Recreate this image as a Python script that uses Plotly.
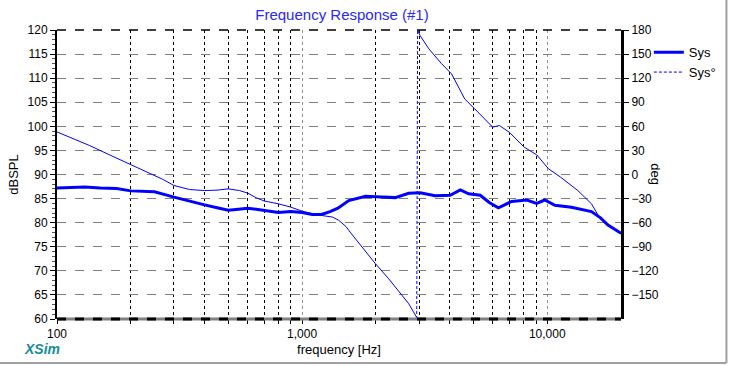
import plotly.graph_objects as go

# ---------------- data ----------------
mag_freq = [100, 115, 130, 150, 175, 200, 250, 300, 350, 400, 450, 500, 550, 600, 650, 700,
            800, 900, 1000, 1100, 1200, 1300, 1400, 1550, 1700, 1815, 2000, 2400, 2720, 3030,
            3490, 4020, 4420, 4780, 5330, 5800, 6320, 7160, 8250, 9060, 9770, 10750, 12560,
            15150, 16500, 17700, 20000]
mag_db = [87.2, 87.3, 87.4, 87.2, 87.1, 86.6, 86.4, 85.3, 84.4, 83.7, 83.1, 82.6, 82.8, 83.0,
          82.8, 82.6, 82.1, 82.3, 82.1, 81.7, 81.7, 82.3, 83.0, 84.6, 85.2, 85.5, 85.4, 85.2,
          86.1, 86.2, 85.6, 85.7, 86.8, 86.0, 85.7, 84.2, 83.1, 84.4, 84.7, 84.0, 84.7, 83.6,
          83.2, 82.3, 81.0, 79.5, 77.8]

phase_low_freq = [100, 113, 136, 165, 200, 238, 270, 300, 347, 400, 450, 500, 555, 600, 650,
                  700, 800, 900, 1000, 1137, 1330, 1410, 1510, 1553, 1754, 1990, 2257, 2474,
                  2723, 2920, 2935]
phase_low_deg = [53, 46.5, 36, 24, 12, 1, -6, -13.7, -18.7, -20, -19.5, -17.9, -20, -23.2, -29,
                 -33, -36.5, -40.7, -45.7, -50, -53, -57, -64.8, -70, -90.5, -111, -130, -144.5,
                 -161, -177, -180]
phase_high_freq = [2960, 3030, 3290, 3706, 4070, 4610, 5060, 5550, 5990, 6380, 7000, 8060, 9060,
                   10130, 11340, 13330, 15150, 16160, 17700, 20000]
phase_high_deg = [180, 173, 156.5, 138, 125.4, 94, 81.8, 69, 59, 61, 52.7, 34, 24.5, 7, -3.3,
                  -20, -36.5, -51, -63.5, -74]

x_tick_vals = [100, 1000, 10000]
x_tick_text = ["100", "1,000", "10,000"]
x_minor_vals = [200, 300, 400, 500, 600, 700, 800, 900,
                2000, 3000, 4000, 5000, 6000, 7000, 8000, 9000]
db_ticks = list(range(60, 121, 5))
deg_ticks = [180, 150, 120, 90, 60, 30, 0, -30, -60, -90, -120, -150]

# ---------------- figure ----------------
BLUE = "#0000ff"
FONT = "Liberation Sans, Arial, sans-serif"

fig = go.Figure()
fig.add_trace(go.Scatter(x=mag_freq, y=mag_db, mode="lines", name="Sys",
                         line=dict(color=BLUE, width=3), yaxis="y"))
fig.add_trace(go.Scatter(x=phase_low_freq, y=phase_low_deg, mode="lines", showlegend=False,
                         line=dict(color=BLUE, width=1), yaxis="y2"))
fig.add_trace(go.Scatter(x=[phase_low_freq[-1], phase_high_freq[0]],
                         y=[phase_low_deg[-1], phase_high_deg[0]], mode="lines", name="Sys°",
                         line=dict(color=BLUE, width=1, dash="3px,2px"), yaxis="y2"))
fig.add_trace(go.Scatter(x=phase_high_freq, y=phase_high_deg, mode="lines", showlegend=False,
                         line=dict(color=BLUE, width=1), yaxis="y2"))

fig.update_layout(
    width=733, height=366,
    margin=dict(l=57, r=109, t=30, b=47),
    paper_bgcolor="white", plot_bgcolor="white",
    font=dict(family=FONT, size=12, color="black"),
    title=dict(text="Frequency Response (#1)", x=(342 / 733), xanchor="center",
               y=1 - 15 / 366, yanchor="middle",
               font=dict(family=FONT, size=15, color="#2828ff")),
    showlegend=True,
    legend=dict(x=(652 - 57) / 567, y=0.975, xanchor="left", yanchor="top",
                bgcolor="rgba(0,0,0,0)", font=dict(size=13, color="black"),
                tracegroupgap=0, itemwidth=30),
    xaxis=dict(type="log", range=[2, 4.30103], tickmode="array", tickvals=x_tick_vals,
               ticktext=x_tick_text, ticks="outside", ticklen=4, tickcolor="black",
               showgrid=True, gridcolor="#909090", griddash="dot", gridwidth=1,
               minor=dict(tickmode="array", tickvals=x_minor_vals, showgrid=True,
                          gridcolor="black", griddash="dot", gridwidth=1,
                          ticks="outside", ticklen=4, tickcolor="black"),
               showline=False, zeroline=False,
               title=dict(text="frequency [Hz]", font=dict(size=13), standoff=4),
               tickfont=dict(size=12)),
    yaxis=dict(range=[60, 120], tickmode="array", tickvals=db_ticks, ticks="outside",
               ticklen=5, tickcolor="black", showgrid=True, gridcolor="#808080",
               griddash="dash", gridwidth=1,
               minor=dict(dtick=1, ticks="outside", ticklen=3, tickcolor="#555555",
                          showgrid=False),
               showline=True, linecolor="black", linewidth=2, zeroline=False,
               title=dict(text="dBSPL", font=dict(size=13), standoff=6),
               tickfont=dict(size=12)),
    yaxis2=dict(range=[-180, 180], overlaying="y", side="right", tickmode="array",
                tickvals=deg_ticks, ticks="outside", ticklen=5, tickcolor="black",
                showgrid=False, showline=True, linecolor="black", linewidth=3,
                zeroline=False, tickfont=dict(size=12)),
)

# frame decorations: dashed top/bottom borders, outer grey window border
fig.add_shape(type="line", xref="paper", yref="paper", x0=0, x1=1, y0=0, y1=0,
              line=dict(color="#808080", width=3), layer="above")
fig.add_shape(type="line", xref="paper", yref="paper", x0=0, x1=1, y0=0, y1=0,
              line=dict(color="black", width=3, dash="dash"), layer="above")
fig.add_shape(type="line", xref="paper", yref="paper", x0=0, x1=1, y0=1, y1=1,
              line=dict(color="black", width=1.5, dash="dash"), layer="above")
fig.add_shape(type="line", xref="paper", yref="paper", x0=-0.2, x1=(730 - 57) / 567,
              y0=(319 - 363) / 289, y1=(319 - 363) / 289,
              line=dict(color="#a0a0a0", width=2))
fig.add_shape(type="line", xref="paper", yref="paper", x0=(730 - 57) / 567, x1=(730 - 57) / 567,
              y0=(319 - 363) / 289, y1=1.2, line=dict(color="#a0a0a0", width=2))

fig.add_annotation(text="deg", xref="paper", yref="paper", x=(659 - 57) / 567, xanchor="center",
                   y=(319 - 174) / 289, yanchor="middle", showarrow=False, textangle=90,
                   font=dict(family=FONT, size=13, color="black"))
fig.add_annotation(text="<b><i>XSim</i></b>", xref="paper", yref="paper",
                   x=(22 - 57) / 567, xanchor="left", y=(319 - 349) / 289, yanchor="middle",
                   showarrow=False, font=dict(family=FONT, size=14, color="#1a8c99"))

fig.write_html("out.html", config={"displayModeBar": False},
               post_script="document.body.style.margin='0px';document.body.style.overflow='hidden';")
